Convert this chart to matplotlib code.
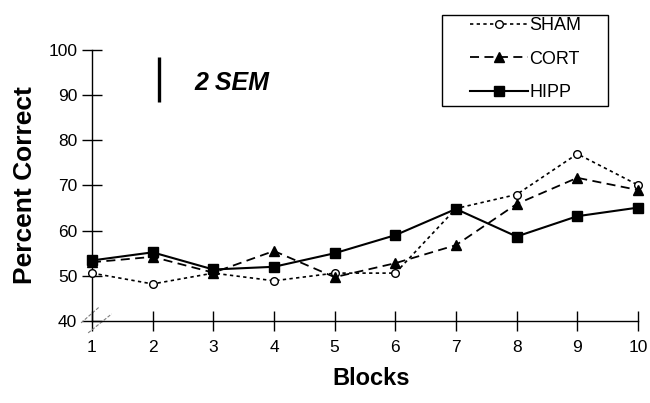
import matplotlib
matplotlib.use("Agg")
import matplotlib.pyplot as plt
from matplotlib.patches import Rectangle
from matplotlib.lines import Line2D

plt.rcParams['font.family'] = ['Liberation Sans', 'DejaVu Sans']

blocks = [1, 2, 3, 4, 5, 6, 7, 8, 9, 10]
sham = [50.6, 48.2, 50.6, 48.9, 50.6, 50.6, 64.9, 68.0, 77.0, 70.1]
cort = [53.0, 54.2, 50.7, 55.5, 49.7, 52.8, 56.8, 65.9, 71.7, 69.0]
hipp = [53.4, 55.2, 51.4, 52.0, 55.0, 59.0, 64.8, 58.7, 63.2, 65.1]
yticks = [40, 50, 60, 70, 80, 90, 100]
sem_bar = (88.5, 98.5)

fig = plt.figure(figsize=(6.5, 4.03), dpi=100)
ax = fig.add_axes([0.1415, 0.2035, 0.84, 0.6725])

ax.plot(blocks, sham, linestyle=(0, (2, 2)), color='black', lw=1.2,
        marker='o', ms=5.5, mfc='white', mec='black', mew=1.0,
        clip_on=False, zorder=3, label='SHAM')
ax.plot(blocks, cort, linestyle=(0, (5, 3)), color='black', lw=1.3,
        marker='^', ms=7, mfc='black', mec='black',
        clip_on=False, zorder=4, label='CORT')
ax.plot(blocks, hipp, linestyle='-', color='black', lw=1.5,
        marker='s', ms=7, mfc='black', mec='black',
        clip_on=False, zorder=5, label='HIPP')

ax.set_xlim(1, 10)
ax.set_ylim(40, 100)
ax.set_xticks(blocks)
ax.set_yticks(yticks)
for s in ['top', 'right']:
    ax.spines[s].set_visible(False)
for s in ['left', 'bottom']:
    ax.spines[s].set_linewidth(1.0)
ax.tick_params(axis='both', direction='inout', length=14, width=1.0,
               labelsize=12.5)
ax.tick_params(axis='x', pad=7)
ax.tick_params(axis='y', pad=3.6)

ax.set_xlabel('Blocks', fontsize=17, fontweight='bold', va='top')
ax.xaxis.set_label_coords(0.511, -0.17)
ax.set_ylabel('Percent Correct', fontsize=19, fontweight='bold')
ax.yaxis.set_label_coords(-0.1, 0.5)

# axis break marks
for (x0, y0, x1, y1) in [(-0.02, -0.007, 0.014, 0.053), (-0.007, -0.044, 0.036, 0.026)]:
    ax.add_line(Line2D([x0, x1], [y0, y1], transform=ax.transAxes,
                       color='0.5', lw=0.8, linestyle=(0, (3, 1.5)),
                       clip_on=False))

# 2 SEM bar
ax.plot([2.10, 2.10], list(sem_bar), color='black', lw=2.4, solid_capstyle='butt')
ax.text(2.68, 92.7, '2 SEM', fontsize=18, fontweight='bold', fontstyle='italic',
        va='center', ha='left')

# legend
fig.patches.append(Rectangle((442 / 650, 1 - 106 / 403), 166 / 650, 91 / 403,
                             transform=fig.transFigure, fill=False,
                             edgecolor='black', lw=1.0))
fig.legend(loc='upper left', bbox_to_anchor=(470 / 650, 1 - 17 / 403),
           frameon=False, fontsize=13, handlelength=3.2, handletextpad=0.1,
           labelspacing=0.92, borderpad=0, borderaxespad=0)

fig.savefig('out.png', dpi=100)
